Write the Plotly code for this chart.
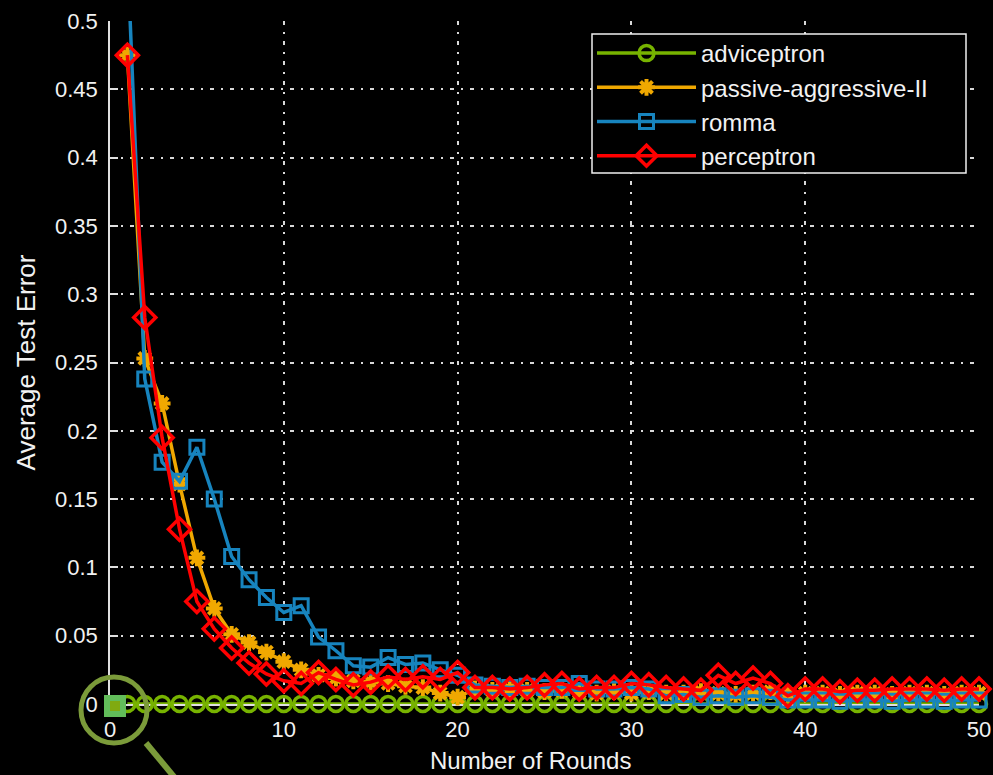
import plotly.graph_objects as go

# Training rounds and average test error per online learner
rounds = list(range(1, 51))

adviceptron = [
    0.0, 0.0, 0.0, 0.0, 0.0, 0.0, 0.0, 0.0, 0.0, 0.0,
    0.0, 0.0, 0.0, 0.0, 0.0, 0.0, 0.0, 0.0, 0.0, 0.0,
    0.0, 0.0, 0.0, 0.0, 0.0, 0.0, 0.0, 0.0, 0.0, 0.0,
    0.0, 0.0, 0.0, 0.0, 0.0, 0.0, 0.0, 0.0, 0.0, 0.0,
    0.0, 0.0, 0.0, 0.0, 0.0, 0.0, 0.0, 0.0, 0.0, 0.0,
]

passive_aggressive = [
    0.475, 0.253, 0.220, 0.161, 0.107, 0.070, 0.051, 0.045, 0.038, 0.031,
    0.025, 0.021, 0.019, 0.017, 0.016, 0.015, 0.013, 0.012, 0.008, 0.005,
    0.011, 0.010, 0.011, 0.010, 0.009, 0.010, 0.009, 0.008, 0.009, 0.008,
    0.009, 0.008, 0.008, 0.009, 0.008, 0.007, 0.008, 0.009, 0.007, 0.008,
    0.008, 0.007, 0.008, 0.008, 0.007, 0.008, 0.008, 0.007, 0.008, 0.008,
]

romma = [
    0.550, 0.238, 0.177, 0.163, 0.188, 0.150, 0.108, 0.091, 0.078, 0.067,
    0.072, 0.049, 0.039, 0.028, 0.027, 0.034, 0.029, 0.030, 0.025, 0.021,
    0.014, 0.013, 0.012, 0.013, 0.012, 0.012, 0.015, 0.011, 0.011, 0.012,
    0.011, 0.006, 0.007, 0.005, 0.006, 0.005, 0.006, 0.005, 0.003, 0.003,
    0.003, 0.002, 0.003, 0.003, 0.002, 0.003, 0.003, 0.002, 0.003, 0.003,
]

perceptron = [
    0.475, 0.283, 0.195, 0.128, 0.075, 0.055, 0.041, 0.030, 0.022, 0.017,
    0.015, 0.023, 0.018, 0.014, 0.016, 0.020, 0.018, 0.020, 0.018, 0.023,
    0.012, 0.012, 0.011, 0.012, 0.014, 0.015, 0.011, 0.012, 0.012, 0.015,
    0.014, 0.012, 0.011, 0.010, 0.021, 0.015, 0.019, 0.015, 0.006, 0.011,
    0.011, 0.009, 0.010, 0.010, 0.011, 0.011, 0.011, 0.010, 0.011, 0.011,
]

x_ticks = [0, 10, 20, 30, 40, 50]
y_ticks = [0, 0.05, 0.1, 0.15, 0.2, 0.25, 0.3, 0.35, 0.4, 0.45, 0.5]

FONT = "Liberation Sans, Arial, sans-serif"
TEXT = "#f2f2f2"
GRID = "#d8d8d8"
HIGHLIGHT = "#7b9b3a"

styles = [
    ("adviceptron", adviceptron, "#77b300", "circle-open", 15, 3.5),
    ("passive-aggressive-II", passive_aggressive, "#f0a800", "asterisk-open", 14, 4),
    ("romma", romma, "#1784be", "square-open", 14, 3),
    ("perceptron", perceptron, "#ff0000", "diamond-open", 17, 3.5),
]

fig = go.Figure()
for name, values, color, symbol, size, width in styles:
    fig.add_trace(go.Scatter(
        x=rounds, y=values, name=name, mode="lines+markers",
        line=dict(color=color, width=3.5),
        marker=dict(symbol=symbol, size=size, color=color,
                    line=dict(color=color, width=width)),
        cliponaxis=False,
    ))

# plot-area geometry in pixels, used to place the highlight and legend frame
L, T, W, H = 110, 21, 869, 683


def px(x):
    return (x - L) / W


def py(y):
    return (T + H - y) / H


shapes = [
    # legend frame
    dict(type="rect", xref="paper", yref="paper",
         x0=px(592), x1=px(966), y0=py(173), y1=py(34),
         fillcolor="black", line=dict(color="#f0f0f0", width=1.5),
         layer="above"),
    # highlighted start square at the origin
    dict(type="rect", xref="paper", yref="paper",
         x0=px(104), x1=px(126), y0=py(717), y1=py(695),
         fillcolor="#62bd5a", line=dict(width=0), layer="above"),
    dict(type="rect", xref="paper", yref="paper",
         x0=px(110), x1=px(120), y0=py(711), y1=py(701),
         fillcolor="#80aa10", line=dict(width=0), layer="above"),
    # magnifier ring and handle
    dict(type="circle", xref="paper", yref="paper",
         x0=px(81), x1=px(147), y0=py(743), y1=py(677),
         line=dict(color=HIGHLIGHT, width=5), layer="above"),
    dict(type="line", xref="paper", yref="paper",
         x0=px(146), y0=py(743), x1=px(180), y1=py(784),
         line=dict(color=HIGHLIGHT, width=6), layer="above"),
]

axis_common = dict(
    showgrid=True, gridcolor=GRID, griddash="4px,7px,2px,7px", gridwidth=1.5,
    showline=True, linecolor="#e0e0e0", linewidth=1.5,
    ticks="inside", ticklen=8, tickcolor="#e0e0e0", tickwidth=1.5,
    zeroline=False, layer="below traces", automargin=False,
    tickfont=dict(family=FONT, size=22, color=TEXT),
)

fig.update_layout(
    width=993, height=775,
    margin=dict(l=L, r=993 - L - W, t=T, b=775 - T - H),
    paper_bgcolor="black", plot_bgcolor="black",
    font=dict(family=FONT, color=TEXT),
    showlegend=True,
    legend=dict(
        x=px(592), y=py(31), xanchor="left", yanchor="top",
        bgcolor="rgba(0,0,0,0)", borderwidth=0,
        font=dict(family=FONT, size=24, color=TEXT),
        itemwidth=99,
    ),
    xaxis=dict(
        range=[0, 50], tickvals=x_ticks, ticklabelstandoff=5,
        **axis_common,
    ),
    yaxis=dict(
        range=[0, 0.5], tickvals=y_ticks, ticklabelstandoff=6,
        title=dict(text="Average Test Error", standoff=12,
                   font=dict(family=FONT, size=26, color=TEXT)),
        **axis_common,
    ),
    annotations=[
        dict(text="Number of Rounds", xref="paper", yref="paper",
             x=px(530), y=py(760), xanchor="center", yanchor="middle",
             showarrow=False, font=dict(family=FONT, size=24, color=TEXT)),
    ],
    shapes=shapes,
)

fig.write_html("out.html")
